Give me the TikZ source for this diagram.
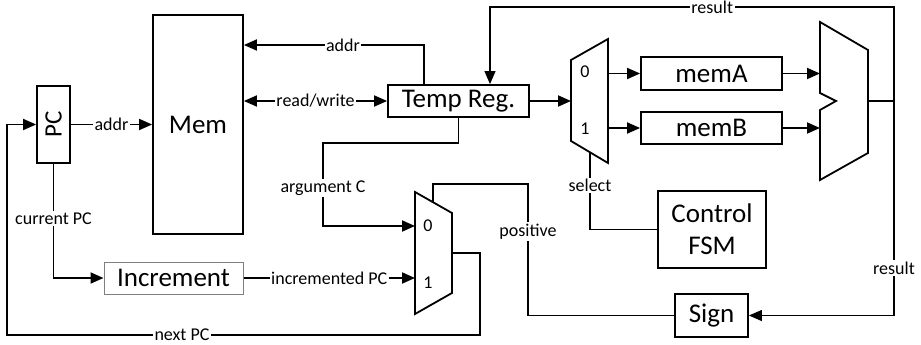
\documentclass[tikz,border=0pt]{standalone}
\usepackage{fontspec}
\setmainfont{Carlito}
\usepackage{graphicx}
\usetikzlibrary{arrows.meta,calc}
\begin{document}
\begin{tikzpicture}[x=1pt,y=-1pt,
  box/.style={draw, line width=1.8pt, inner sep=0pt, align=center, font=\fontsize{27}{32}\selectfont},
  wire/.style={line width=1.8pt},
  thinw/.style={line width=1.2pt},
  arr/.style={-{Triangle[length=13pt,width=11pt]}},
  lab/.style={fill=white, inner sep=1.5pt, font=\fontsize{18}{21}\selectfont},
  digit/.style={inner sep=0pt, font=\fontsize{18}{21}\selectfont}]
\useasboundingbox (0,0) rectangle (921,345);

% boxes
\node[box, minimum width=33pt, minimum height=77pt] (PC) at (53.5,124.5) {\fontsize{25}{28}\selectfont\rotatebox{90}{PC}};
\node[box, minimum width=90pt, minimum height=219pt] (Mem) at (198,124.5) {Mem};
\node[box, minimum width=141pt, minimum height=32pt] (TR) at (458.5,101) {Temp Reg.};
\node[box, draw=gray, line width=1pt, minimum width=139pt, minimum height=32pt] (Inc) at (173.5,278) {Increment};
\node[box, minimum width=141pt, minimum height=33pt] (memA) at (711.5,73.5) {memA};
\node[box, minimum width=141pt, minimum height=32pt] (memB) at (711.5,128) {memB};
\node[box, minimum width=108pt, minimum height=77pt] (FSM) at (712,229.5) {Control\\FSM};
\node[box, minimum width=73pt, minimum height=43pt] (Sign) at (711.5,315.5) {Sign};

% upper mux (demux)
\draw[wire, line join=miter] (571,60) -- (608,39) -- (608,163) -- (571,141) -- cycle;
\coordinate (m1in) at (571,101);
\coordinate (m1o0) at (608,73.5);
\coordinate (m1o1) at (608,128);
\coordinate (m1s) at (590,152);
\node[digit] at (585,72) {0};
\node[digit] at (585,129) {1};

% combining unit
\draw[wire, line join=miter] (820,22) -- (868,50) -- (868,153) -- (820,180) -- (820,110) -- (836,101) -- (820,93) -- cycle;
\coordinate (aluA) at (820,73.5);
\coordinate (aluB) at (820,128);
\coordinate (aluout) at (868,101);

% lower mux
\draw[wire, line join=miter] (415,192) -- (452,213) -- (452,293) -- (415,314) -- cycle;
\coordinate (m2i0) at (415,226);
\coordinate (m2i1) at (415,278);
\coordinate (m2out) at (452,253);
\coordinate (m2top) at (433,202);
\node[digit] at (428,226) {0};
\node[digit] at (428,283) {1};

% helper coordinates
\coordinate (yaddr) at (0,45);
\coordinate (xaddr) at (424,0);
\coordinate (xres) at (490,0);
\coordinate (rj) at (894,101);
\coordinate (rtop) at (894,7);
\coordinate (rtl) at (490,7);
\coordinate (rbot) at (894,315.5);

% connectors
\draw[wire,arr] (PC.east) -- node[lab]{addr} (PC.east -| Mem.west);
\draw[wire,arr] (PC.south) -- node[lab, pos=0.48]{current PC} (PC.south |- Inc.west) -- (Inc.west);
\draw[wire,arr] (m2out) -- (480,253) -- (480,335) -- node[lab, pos=0.63]{next PC} (7,335) |- (PC.west);
\draw[wire,{Triangle[length=13pt,width=11pt]}-{Triangle[length=13pt,width=11pt]}] (Mem.east |- TR.west) -- node[lab]{read/write} (TR.west);
\draw[wire,arr] (TR.north -| xaddr) -- (xaddr |- yaddr) -- node[lab, pos=0.45]{addr} (Mem.east |- yaddr);
\draw[thinw] (aluout) -- (rj);
\draw[thinw,arr] (rj) -- (rtop) -- node[lab, pos=0.45]{result} (rtl) -- (TR.north -| xres);
\draw[thinw,arr] (rj) -- node[lab, pos=0.78]{result} (rbot) -- (Sign.east);
\draw[wire,arr] (TR.east) -- (m1in);
\draw[wire,arr] (m1o0) -- (memA.west);
\draw[wire,arr] (m1o1) -- (memB.west);
\draw[wire,arr] (memA.east) -- (aluA);
\draw[wire,arr] (memB.east) -- (aluB);
\draw[thinw] (m1s) -- node[lab, pos=0.43]{select} (m1s |- FSM.west) -- (FSM.west);
\draw[wire,arr] (TR.south) -- (458.5,143) -- (323,143) -- node[lab, pos=0.54]{argument C} (323,226) -- (m2i0);
\draw[wire,arr] (Inc.east) -- node[lab]{incremented PC} (m2i1);
\draw[thinw] (m2top) -- (433,184) -- (528,184) -- node[lab, pos=0.36]{positive} (528,315.5) -- (Sign.west);
\end{tikzpicture}
\end{document}
